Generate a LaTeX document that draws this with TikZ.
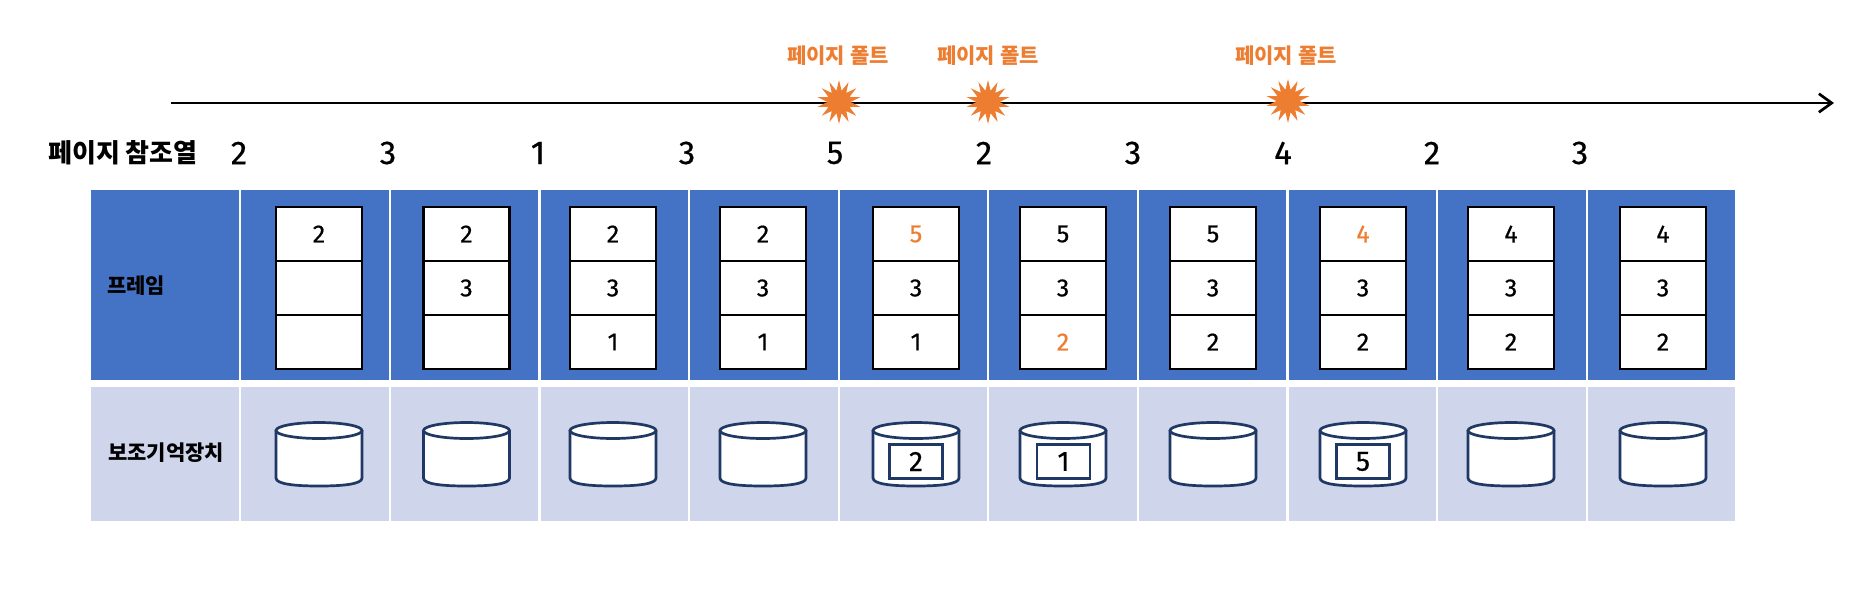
\documentclass[tikz,border=0pt]{standalone}
\usepackage{fontspec}
\usepackage{xcolor}
\usetikzlibrary{shapes.geometric,arrows.meta,positioning}
\setmainfont{Noto Sans CJK KR}
\newfontfamily\numfont[FakeBold=0.5]{Fira Sans}
\definecolor{framecol}{HTML}{4472C4}
\definecolor{diskcol}{HTML}{CFD5EA}
\definecolor{faultcol}{HTML}{ED7D31}
\definecolor{linecol}{HTML}{1F3864}
\newcommand{\flt}[1]{\textcolor{faultcol}{#1}}
\newcommand{\fsz}[1]{\fontsize{#1}{#1}\selectfont}

\begin{document}
\begin{tikzpicture}[
  x=1pt, y=-1pt,
  framecell/.style={fill=framecol, inner sep=0, outer sep=0, minimum width=147.3, minimum height=190},
  diskcell/.style={fill=diskcol, inner sep=0, outer sep=0, minimum width=147.3, minimum height=134},
  slot/.style={draw=black, fill=white, line width=2.3, inner sep=0, minimum width=86, minimum height=54, font=\numfont\fsz{25}},
  refnum/.style={font=\numfont\fsz{33}, inner sep=0},
  rowlbl/.style={font=\bfseries\fsz{21}, inner sep=0},
  faultlbl/.style={font=\bfseries\fsz{21}, text=faultcol, inner sep=0},
  burst/.style={star, star points=14, star point ratio=1.9, fill=faultcol, inner sep=0, minimum size=44},
  swapbox/.style={draw=linecol, fill=white, line width=2.6, inner sep=0, minimum width=53, minimum height=34, font=\numfont\fsz{28}},
  arr/.style={-{Straight Barb[length=4.5mm,width=6.5mm]}, line width=2.7},
  disk/.pic={
    \draw[draw=linecol, fill=white, line width=2.7]
      (-43,-23.5) -- (-43,24) .. controls (-43,30) and (-25,32) .. (0,32)
      .. controls (25,32) and (43,30) .. (43,24) -- (43,-23.5);
    \draw[draw=linecol, fill=white, line width=2.7] (0,-23.5) ellipse [x radius=43pt, y radius=8pt];
  }
]
  \useasboundingbox (0,0) rectangle (1866,595);

  % time line
  \coordinate (axisstart) at (171,103);
  \coordinate (axisend) at (1834,103);
  \draw[arr] (axisstart) -- (axisend);
  \node[burst] (burst1) at (839,102) {};
  \node[burst] (burst2) at (988,102) {};
  \node[burst] (burst3) at (1288,101) {};
  \node[faultlbl] (fault1) at (838,56) {페이지 폴트};
  \node[faultlbl] (fault2) at (988,56) {페이지 폴트};
  \node[faultlbl] (fault3) at (1286,56) {페이지 폴트};

  % reference string
  \node[font=\bfseries\fsz{26}, inner sep=0] (reflbl) at (123,153) {페이지 참조열};
  \foreach \i/\rx/\n in {1/239/2, 2/388/3, 3/538/1, 4/687/3, 5/835/5, 6/984/2, 7/1133/3, 8/1283/4, 9/1432/2, 10/1580/3}
    \node[refnum] (ref\i) at (\rx,153) {\n};

  % left column
  \node[framecell, minimum width=148] (framehead) at (165.3,285) {};
  \node[diskcell, minimum width=148] (diskhead) at (165.3,454) {};
  \node[rowlbl] (framelbl) at (136,286) {프레임};
  \node[rowlbl] (disklbl) at (166,453) {보조기억장치};

  % one column per reference
  \foreach \i/\bx/\a/\b/\c in {
    1/319/2//, 2/466.5/2/3/, 3/613/2/3/1, 4/763/2/3/1, 5/916/{\flt{5}}/3/1,
    6/1063/5/3/{\flt{2}}, 7/1213/5/3/2, 8/1363/{\flt{4}}/3/2, 9/1511/4/3/2, 10/1663/4/3/2}
  {
    \pgfmathsetmacro{\cx}{240.3+149.6*(\i-0.5)}
    \node[framecell] (frame\i) at (\cx,285) {};
    \node[diskcell] (store\i) at (\cx,454) {};
    \node[slot] (slot\i a) at (\bx,234) {\a};
    \node[slot] (slot\i b) at (\bx,288) {\b};
    \node[slot] (slot\i c) at (\bx,342) {\c};
    \pic at (\bx,454) {disk};
  }

  % pages swapped out
  \node[swapbox] (swap5) at (916,461.5) {2};
  \node[swapbox] (swap6) at (1063.5,461.5) {1};
  \node[swapbox] (swap8) at (1363,461.5) {5};
\end{tikzpicture}
\end{document}
